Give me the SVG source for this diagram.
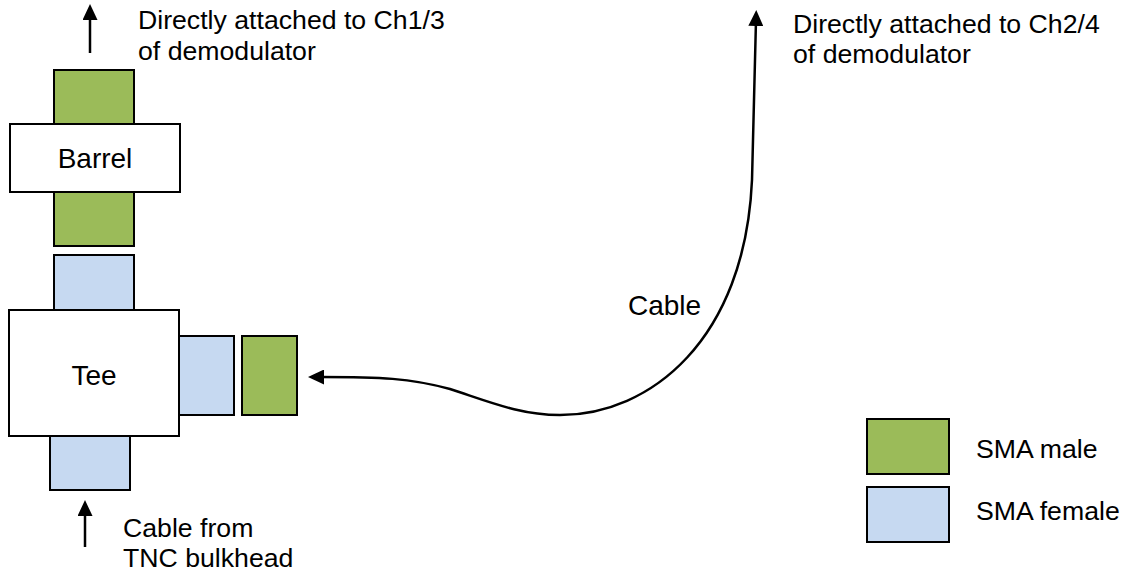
<svg xmlns="http://www.w3.org/2000/svg" width="1137" height="577" viewBox="0 0 1137 577">
<defs>
<style>
.male{fill:#9BBB59;stroke:#000;stroke-width:2}
.female{fill:#C6D9F1;stroke:#000;stroke-width:2}
.box{fill:#fff;stroke:#000;stroke-width:2}
.t{font-family:"Liberation Sans",Arial,sans-serif;font-size:26.67px;fill:#000}
.tl{font-family:"Liberation Sans",Arial,sans-serif;font-size:28px;fill:#000}
.wire{fill:none;stroke:#000;stroke-width:2.5}
</style>
<marker id="ah" markerUnits="userSpaceOnUse" markerWidth="16" markerHeight="15" refX="6" refY="7.5" orient="auto-start-reverse">
<path d="M0,0 L16,7.5 L0,15 z" fill="#000"/>
</marker>
</defs>
<rect width="1137" height="577" fill="#fff"/>
<g id="barrel-male-top"><rect class="male" x="54" y="70" width="80" height="54"/></g>
<g id="barrel-male-bottom"><rect class="male" x="54" y="192" width="80" height="54"/></g>
<g id="barrel"><rect class="box" x="10" y="124" width="170" height="68"/><text class="tl" x="95" y="168" text-anchor="middle">Barrel</text></g>
<g id="tee-female-top"><rect class="female" x="54" y="255" width="80" height="55"/></g>
<g id="tee"><rect class="box" x="9" y="310" width="170" height="126"/><text class="tl" x="94" y="385" text-anchor="middle">Tee</text></g>
<g id="tee-female-right"><rect class="female" x="179" y="336" width="55" height="79"/></g>
<g id="cable-male"><rect class="male" x="242" y="336" width="55" height="79"/></g>
<g id="tee-female-bottom"><rect class="female" x="50" y="436" width="80" height="54"/></g>
<g id="label-ch13"><text class="t" x="138" y="29">Directly attached to Ch1/3</text><text class="t" x="138" y="60">of demodulator</text></g>
<g id="label-ch24"><text class="t" x="793" y="33">Directly attached to Ch2/4</text><text class="t" x="793" y="63">of demodulator</text></g>
<g id="label-tnc"><text class="t" x="123" y="537">Cable from</text><text class="t" x="123" y="567">TNC bulkhead</text></g>
<g id="label-cable"><text class="tl" x="628" y="315">Cable</text></g>
<g id="legend">
<rect class="male" x="867" y="419" width="82" height="55"/>
<text class="t" x="976" y="458">SMA male</text>
<rect class="female" x="867" y="487" width="82" height="55"/>
<text class="t" x="976" y="520">SMA female</text>
</g>
<g id="connectors">
<line class="wire" x1="90" y1="53" x2="90" y2="14" marker-end="url(#ah)"/>
<line class="wire" x1="85" y1="547" x2="85" y2="510" marker-end="url(#ah)"/>
<path class="wire" d="M318,377 L320,377 C380,377 410,378 450,389 C490,402 520,415 560,415 C650,415 745,340 752,180 L756,20" marker-start="url(#ah)" marker-end="url(#ah)"/>
</g>
</svg>
